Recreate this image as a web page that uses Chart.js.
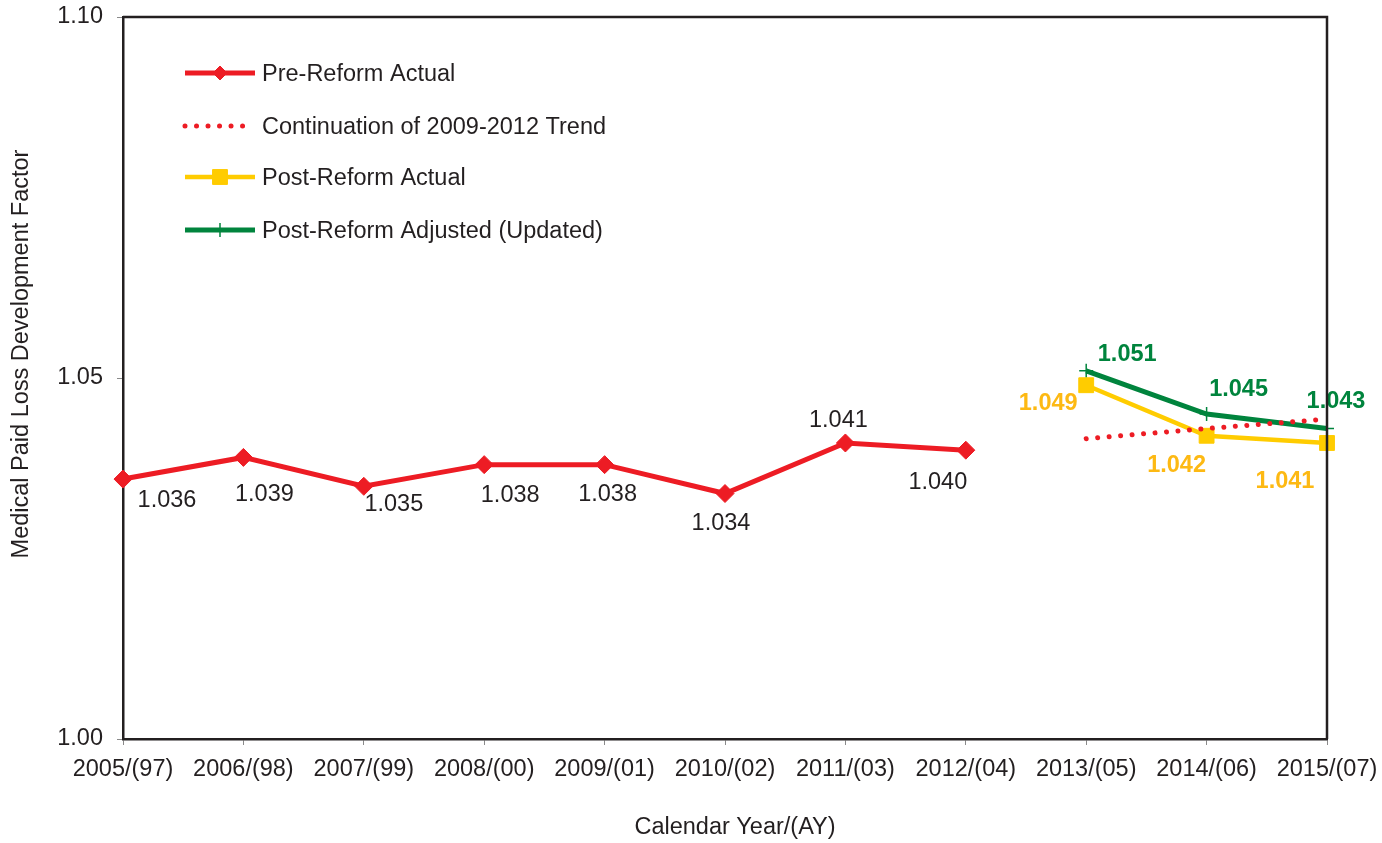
<!DOCTYPE html>
<html>
<head>
<meta charset="utf-8">
<script src="https://cdn.jsdelivr.net/npm/chart.js@4/dist/chart.umd.min.js"></script>
<style>
  html, body { margin: 0; padding: 0; background: #ffffff; }
  #wrap { width: 1382px; height: 843px; position: relative; }
</style>
</head>
<body>
<div id="wrap"><canvas id="chart" width="1382" height="843"></canvas></div>
<script>
// Calendar year / accident year categories
const categories = ['2005/(97)', '2006/(98)', '2007/(99)', '2008/(00)', '2009/(01)', '2010/(02)',
                    '2011/(03)', '2012/(04)', '2013/(05)', '2014/(06)', '2015/(07)'];

// Medical paid loss development factors
const preReformActual      = [1.036, 1.039, 1.035, 1.038, 1.038, 1.034, 1.041, 1.040, null, null, null];
const trendContinuation    = [null, null, null, null, null, null, null, null, 1.0416, 1.0430, 1.0443];
const postReformActual     = [null, null, null, null, null, null, null, null, 1.049, 1.042, 1.041];
const postReformAdjusted   = [null, null, null, null, null, null, null, null, 1.051, 1.045, 1.043];

// Y axis tick values
const yTicks = [1.00, 1.05, 1.10];

const FONT = "'Liberation Sans', Arial, Helvetica, sans-serif";
const INK = '#231f20';
const RED = '#ed1c24';
const YELLOW = '#ffcc00';
const YELLOW_TEXT = '#fdb913';
const GREEN = '#00843d';

// Per-point label placement (pixel offset of the text centre from its point)
const labelPlacement = {
  0: { font: '400 23.5px ' + FONT, color: INK,
       offsets: [[44, 21], [21, 37], [30, 18], [26, 31], [3, 30], [-4, 30], [-7, -22], [-28, 32]] },
  2: { font: '700 23.5px ' + FONT, color: YELLOW_TEXT,
       offsets: {8: [-38, 18], 9: [-30, 30], 10: [-42, 39]} },
  3: { font: '700 23.5px ' + FONT, color: GREEN,
       offsets: {8: [41, -16], 9: [32, -25], 10: [9, -27]} }
};

const valueLabels = {
  id: 'valueLabels',
  afterDatasetsDraw(chart) {
    const ctx = chart.ctx;
    ctx.save();
    ctx.textAlign = 'center';
    ctx.textBaseline = 'middle';
    Object.keys(labelPlacement).forEach(k => {
      const idx = +k;
      const cfg = labelPlacement[idx];
      const meta = chart.getDatasetMeta(idx);
      const data = chart.data.datasets[idx].data;
      ctx.font = cfg.font;
      ctx.fillStyle = cfg.color;
      meta.data.forEach((pt, i) => {
        const v = data[i];
        const off = cfg.offsets[i];
        if (v == null || !off) return;
        ctx.fillText(v.toFixed(3), pt.x + off[0], pt.y + off[1]);
      });
    });
    ctx.restore();
  }
};

// Frame around the plot area (top and right edges; left/bottom come from the axes)
const plotFrame = {
  id: 'plotFrame',
  afterDraw(chart) {
    const { left, right, top, bottom } = chart.chartArea;
    const ctx = chart.ctx;
    ctx.save();
    ctx.strokeStyle = INK;
    ctx.lineWidth = 2.5;
    ctx.beginPath();
    ctx.moveTo(left, top);
    ctx.lineTo(right, top);
    ctx.lineTo(right, bottom);
    ctx.stroke();
    ctx.restore();
  }
};

// Axis titles
const axisTitles = {
  id: 'axisTitles',
  afterDraw(chart) {
    const ctx = chart.ctx;
    ctx.save();
    ctx.fillStyle = INK;
    ctx.font = '400 23.5px ' + FONT;
    ctx.textAlign = 'center';
    ctx.textBaseline = 'middle';
    ctx.fillText('Calendar Year/(AY)', 735, 828);
    ctx.translate(22, 354);
    ctx.rotate(-Math.PI / 2);
    ctx.fillText('Medical Paid Loss Development Factor', 0, 0);
    ctx.restore();
  }
};

// Legend drawn inside the plot area, upper left
const legendMarkerRadius = [7, 0, 10.5, 7];
const insideLegend = {
  id: 'insideLegend',
  afterDraw(chart) {
    const ctx = chart.ctx;
    const x0 = 185, x1 = 255, tx = 262;
    const rows = [73, 126, 177, 230];
    ctx.save();
    ctx.font = '400 23.5px ' + FONT;
    ctx.textBaseline = 'middle';
    ctx.textAlign = 'left';
    rows.forEach((y, i) => {
      const ds = chart.data.datasets[i];
      ctx.strokeStyle = ds.borderColor;
      ctx.lineWidth = ds.borderWidth;
      ctx.lineCap = ds.borderCapStyle || 'butt';
      ctx.setLineDash(ds.borderDash || []);
      ctx.beginPath();
      ctx.moveTo(x0, y);
      ctx.lineTo(ds.borderDash ? x1 - 8 : x1, y);
      ctx.stroke();
      ctx.setLineDash([]);
      const cx = (x0 + x1) / 2;
      if (legendMarkerRadius[i] > 0) {
        ctx.fillStyle = ds.pointBackgroundColor;
        ctx.strokeStyle = ds.pointBorderColor;
        ctx.lineWidth = ds.pointBorderWidth;
        ctx.lineCap = 'butt';
        Chart.helpers.drawPoint(ctx, {
          pointStyle: ds.pointStyle, radius: legendMarkerRadius[i], rotation: 0,
          borderWidth: ds.pointBorderWidth
        }, cx, y);
      }
      ctx.fillStyle = INK;
      ctx.fillText(ds.label, tx, y + 1.5);
    });
    ctx.restore();
  }
};

new Chart(document.getElementById('chart'), {
  type: 'line',
  data: {
    labels: categories,
    datasets: [
      {
        label: 'Pre-Reform Actual',
        data: preReformActual,
        borderColor: RED, backgroundColor: RED,
        borderWidth: 5,
        pointStyle: 'rectRot', pointRadius: 9, pointBorderWidth: 1,
        pointBackgroundColor: RED, pointBorderColor: RED,
        order: 1
      },
      {
        label: 'Continuation of 2009-2012 Trend',
        data: trendContinuation,
        borderColor: RED, backgroundColor: RED,
        borderWidth: 5,
        borderDash: [0.01, 11.5],
        borderCapStyle: 'round',
        pointRadius: 0,
        order: 0
      },
      {
        label: 'Post-Reform Actual',
        data: postReformActual,
        borderColor: YELLOW, backgroundColor: YELLOW,
        borderWidth: 4.5,
        pointStyle: 'rect', pointRadius: 10.5, pointBorderWidth: 1,
        pointBackgroundColor: YELLOW, pointBorderColor: YELLOW,
        order: 2
      },
      {
        label: 'Post-Reform Adjusted (Updated)',
        data: postReformAdjusted,
        borderColor: GREEN, backgroundColor: GREEN,
        borderWidth: 5,
        pointStyle: 'cross', pointRadius: 7, pointBorderWidth: 1.5,
        pointBackgroundColor: GREEN, pointBorderColor: GREEN,
        order: 3
      }
    ]
  },
  options: {
    responsive: false,
    animation: false,
    spanGaps: false,
    layout: { padding: { top: 17, right: 55, left: 0, bottom: 0 } },
    plugins: {
      legend: { display: false },
      tooltip: { enabled: false }
    },
    scales: {
      x: {
        offset: false,
        grid: { display: true, drawOnChartArea: false, drawTicks: true, tickLength: 6, tickColor: '#8a8a8a', tickWidth: 1 },
        border: { display: true, color: INK, width: 2.5 },
        ticks: { color: INK, font: { family: FONT, size: 23.5 }, padding: 10, maxRotation: 0, autoSkip: false },
        afterFit(scale) {
          scale.height = 104;
          scale.paddingLeft = 0; scale.paddingRight = 0;
        }
      },
      y: {
        min: 1.0, max: 1.1,
        afterBuildTicks(scale) { scale.ticks = yTicks.map(v => ({ value: v })); },
        grid: { display: true, drawOnChartArea: false, drawTicks: true, tickLength: 6, tickColor: '#8a8a8a', tickWidth: 1 },
        border: { display: true, color: INK, width: 2.5 },
        ticks: { color: INK, font: { family: FONT, size: 23.5 }, padding: 14,
                 callback: v => Number(v).toFixed(2) },
        afterFit(scale) {
          scale.width = 123;
          scale.paddingTop = 0; scale.paddingBottom = 0;
        }
      }
    }
  },
  plugins: [valueLabels, plotFrame, axisTitles, insideLegend]
});
</script>
</body>
</html>
